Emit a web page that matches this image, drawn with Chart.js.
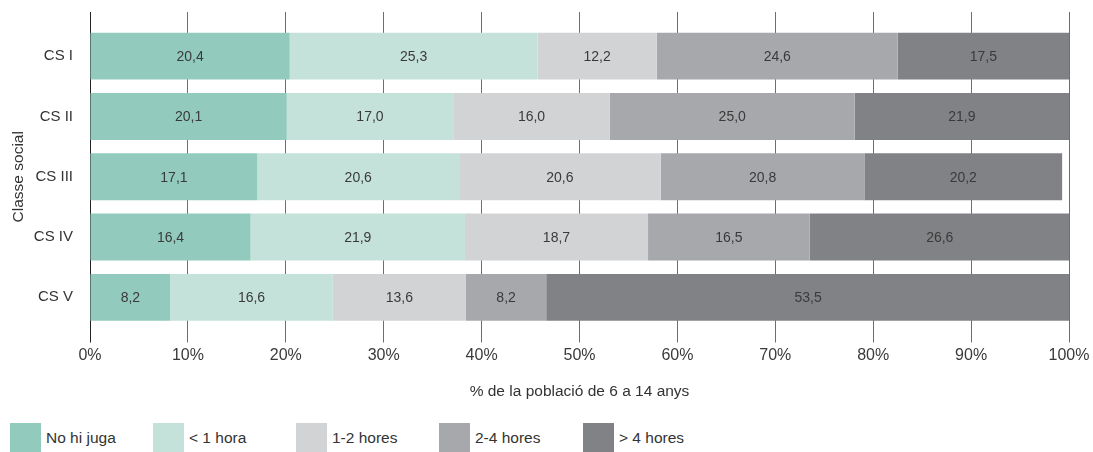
<!DOCTYPE html>
<html>
<head>
<meta charset="utf-8">
<script src="https://cdn.jsdelivr.net/npm/chart.js@4/dist/chart.umd.min.js"></script>
<style>
  html, body { margin: 0; padding: 0; background: #fff; }
  body { width: 1093px; height: 452px; position: relative; overflow: hidden;
         font-family: "Liberation Sans", Arial, sans-serif; }
  #wrap { position: absolute; left: 0; top: 0; width: 1093px; height: 410px; }
  #legend { position: absolute; left: 0; top: 423px; height: 29px; width: 1093px; }
  .item { position: absolute; top: 0; height: 29px; display: flex; align-items: center;
          font-size: 15.5px; color: #333; white-space: nowrap; }
  .swatch { width: 31px; height: 29px; margin-right: 5px; flex: none; }
</style>
</head>
<body>
<div id="wrap"><canvas id="chart"></canvas></div>
<div id="legend"></div>
<script>
// Time spent playing video games, by social class (% of population aged 6 to 14)
const categories = ['CS I', 'CS II', 'CS III', 'CS IV', 'CS V'];
const seriesNames = ['No hi juga', '< 1 hora', '1-2 hores', '2-4 hores', '> 4 hores'];
const noHiJuga = [20.4, 20.1, 17.1, 16.4, 8.2];
const menysUnaHora = [25.3, 17.0, 20.6, 21.9, 16.6];
const unaDuesHores = [12.2, 16.0, 20.6, 18.7, 13.6];
const duesQuatreHores = [24.6, 25.0, 20.8, 16.5, 8.2];
const mesQuatreHores = [17.5, 21.9, 20.2, 26.6, 53.5];
const xTicks = [0, 10, 20, 30, 40, 50, 60, 70, 80, 90, 100];
const colors = ['#92cbbd', '#c5e2da', '#d2d3d5', '#a7a8ab', '#818285'];

const seriesValues = [noHiJuga, menysUnaHora, unaDuesHores, duesQuatreHores, mesQuatreHores];
const FONT = '"Liberation Sans", Arial, sans-serif';

const datasets = seriesNames.map((name, i) => ({
  label: name,
  data: seriesValues[i],
  backgroundColor: colors[i],
  borderWidth: 0,
  categoryPercentage: 1,
  barPercentage: 0.777
}));

// value labels centred in every segment, decimal comma
const segmentLabels = {
  id: 'segmentLabels',
  afterDatasetsDraw(chart) {
    const ctx = chart.ctx;
    ctx.save();
    ctx.font = '14px ' + FONT;
    ctx.fillStyle = '#3a3a3a';
    ctx.textAlign = 'center';
    ctx.textBaseline = 'middle';
    chart.data.datasets.forEach((ds, di) => {
      chart.getDatasetMeta(di).data.forEach((bar, i) => {
        const v = ds.data[i];
        const cx = (bar.x + bar.base) / 2;
        ctx.fillText(v.toFixed(1).replace('.', ','), cx, bar.y + 1);
      });
    });
    ctx.restore();
  }
};

const gridColor = (c) => (c.tick && c.tick.value === 0) ? '#222' : '#6e6e6e';

new Chart(document.getElementById('chart'), {
  type: 'bar',
  data: { labels: categories, datasets },
  options: {
    indexAxis: 'y',
    responsive: true,
    maintainAspectRatio: false,
    animation: false,
    layout: { padding: { top: 11, right: 24, left: 0, bottom: 0 } },
    plugins: { legend: { display: false }, tooltip: { enabled: false } },
    scales: {
      x: {
        type: 'linear', position: 'bottom', stacked: true, min: 0, max: 100,
        afterBuildTicks: (s) => { s.ticks = xTicks.map(v => ({ value: v })); },
        afterFit: (s) => { s.height = 82.5; },
        grid: { color: gridColor, lineWidth: 1, tickLength: 15, drawOnChartArea: true, z: 0 },
        border: { display: false },
        ticks: { callback: (v) => v + '%', color: '#3a3a3a', font: { family: FONT, size: 16 }, padding: 3, maxRotation: 0 },
        title: { display: true, text: '% de la població de 6 a 14 anys', color: '#333',
                 font: { family: FONT, size: 15.5 }, padding: { top: 0, bottom: 9 } }
      },
      xTop: {
        type: 'linear', position: 'top', min: 0, max: 100,
        afterBuildTicks: (s) => { s.ticks = xTicks.map(v => ({ value: v })); },
        afterFit: (s) => { s.height = 14; },
        grid: { color: gridColor, lineWidth: 1, tickLength: 14, drawOnChartArea: false, drawTicks: true },
        border: { display: false },
        ticks: { display: false }
      },
      y: {
        stacked: true,
        afterFit: (s) => { s.width = 90; },
        grid: { display: false, drawTicks: false },
        border: { display: false },
        ticks: { color: '#333', font: { family: FONT, size: 15 }, padding: 17 },
        title: { display: true, text: 'Classe social', color: '#333',
                 font: { family: FONT, size: 15.5 }, padding: { top: 9, bottom: 0 } }
      }
    }
  },
  plugins: [segmentLabels]
});

// legend row below the chart
const legend = document.getElementById('legend');
const legendX = [10, 153, 296, 439, 583];
seriesNames.forEach((name, i) => {
  const item = document.createElement('div');
  item.className = 'item';
  item.style.left = legendX[i] + 'px';
  const sw = document.createElement('span');
  sw.className = 'swatch';
  sw.style.background = colors[i];
  const tx = document.createElement('span');
  tx.textContent = name;
  item.appendChild(sw);
  item.appendChild(tx);
  legend.appendChild(item);
});
</script>
</body>
</html>
